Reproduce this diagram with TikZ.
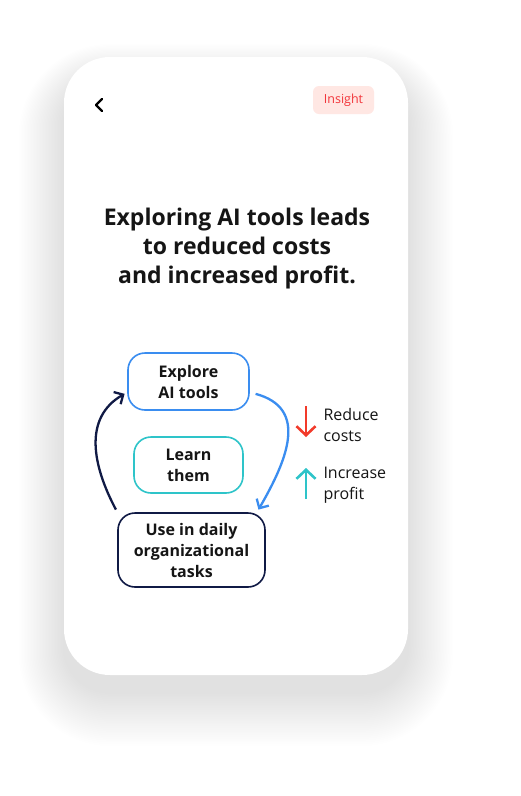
\documentclass[tikz,border=0pt]{standalone}
\usepackage{fontspec}
\setmainfont{Open Sans}
\usetikzlibrary{arrows.meta}

\definecolor{blueline}{HTML}{3A8DF0}
\definecolor{tealline}{HTML}{2EC4C9}
\definecolor{navyline}{HTML}{101A45}
\definecolor{redarrow}{HTML}{F23A2A}
\definecolor{badgefill}{HTML}{FFE7E3}
\definecolor{badgetext}{HTML}{F2353A}
\definecolor{inktext}{HTML}{151515}

\tikzset{
  stepbox/.style={draw,line width=1.6pt,rounded corners=17pt,align=center,
    text=inktext,font=\fontsize{16}{21}\selectfont\bfseries,inner sep=0pt},
  loop/.style={line width=2.3pt,-{Straight Barb[length=7pt,width=14pt]}},
  effect/.style={line width=2.6pt,-{Straight Barb[length=9pt,width=19pt]}},
  side/.style={align=left,anchor=west,text=inktext,font=\fontsize{16}{21}\selectfont}
}

\begin{document}
\begin{tikzpicture}[x=1pt,y=-1pt]

\useasboundingbox[fill=white] (0,0) rectangle (520,796);

% soft shadow of the card
\foreach \g in {1,...,30}
  \fill[black,opacity=0.0026,rounded corners=46pt+1.5*\g pt]
    (64-1.5*\g,80-1.2*\g) rectangle (408+1.5*\g,692+1.8*\g);

% card
\fill[white,rounded corners=46pt] (64,57) rectangle (408,675);

% top bar
\node (back) at (98,105) {};
\draw[line width=2.2pt,line cap=round,line join=round] (102,99) -- (96,105) -- (102,111);
\node[fill=badgefill,rounded corners=6pt,minimum width=61pt,minimum height=28pt,
  text=badgetext,font=\fontsize{12.5}{14}\selectfont] (insight) at (343.5,100) {Insight};

% title
\node[align=center,text=inktext,font=\fontsize{23}{29}\selectfont\bfseries] (title)
  at (237,249) {Exploring AI tools leads\\to reduced costs\\and increased profit.};

% cycle
\node[stepbox,draw=blueline,minimum width=121pt,minimum height=57pt] (explore)
  at (188.5,381.5) {Explore\\AI tools};
\node[stepbox,draw=tealline,minimum width=109pt,minimum height=56pt] (learn)
  at (188.5,465) {Learn\\them};
\node[stepbox,draw=navyline,minimum width=147pt,minimum height=74pt] (use)
  at (191.5,550) {Use in daily\\organizational\\tasks};

\draw[loop,blueline,shorten <=6pt,shorten >=3pt] (explore.-10) to[out=-15,in=60,looseness=1.3] (use.30);
\draw[loop,navyline,shorten <=3pt,shorten >=3pt] (use.153) to[out=118,in=210,looseness=1.1] (explore.190);

% effects
\coordinate (downtop) at (306,406);
\coordinate (downend) at (306,437);
\draw[effect,redarrow] (downtop) -- (downend);
\coordinate (upbot) at (306,499);
\coordinate (upend) at (306,468);
\draw[effect,tealline] (upbot) -- (upend);

\node[side] (reduce) at (320,425) {Reduce\\costs};
\node[side] (increase) at (320,485.5) {Increase\\profit};

\end{tikzpicture}
\end{document}
